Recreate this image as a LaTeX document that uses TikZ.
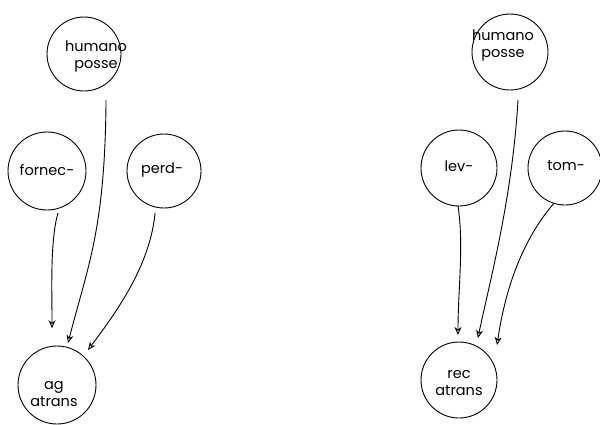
\documentclass[tikz,border=0pt]{standalone}
\usepackage{fontspec}
\setmainfont{Poppins}
\usetikzlibrary{arrows.meta,calc}
\begin{document}
\begin{tikzpicture}[x=1pt,y=-1pt,
  circ/.style={draw,circle,line width=0.9pt,inner sep=0pt,outer sep=0pt},
  lbl/.style={font=\fontsize{14.5}{17}\selectfont,align=center,inner sep=0pt},
  arr/.style={line width=0.9pt,-{Stealth[open,length=8pt,width=7pt,inset=2.5pt]}}]
\useasboundingbox (0,0) rectangle (600,424);
% left diagram
\node[circ,minimum size=74pt] (hp1) at (84,54) {};
\node[lbl] (hp1t) at (96,57) {humano\\posse};
\node[circ,minimum size=78pt] (fornec) at (47,171) {};
\node[lbl] (fornect) at (47,170) {fornec-};
\node[circ,minimum size=74pt] (perd) at (164,171) {};
\node[lbl] (perdt) at (162,170) {perd-};
\node[circ,minimum size=78pt] (ag) at (57,385) {};
\node[lbl] (agt) at (54,394) {ag\\atrans};
% right diagram
\node[circ,minimum size=76pt] (hp2) at (510,52) {};
\node[lbl] (hp2t) at (503,46) {humano\\posse};
\node[circ,minimum size=76pt] (lev) at (459,168) {};
\node[lbl] (levt) at (459,166) {lev-};
\node[circ,minimum size=74pt] (tom) at (565,168) {};
\node[lbl] (tomt) at (566,166) {tom-};
\node[circ,minimum size=76pt] (rec) at (459,380) {};
\node[lbl] (rect) at (459,383) {rec\\atrans};
% connectors left
\draw[arr] ($(hp1)+(-64.4:51pt)$) .. controls (105,230) and (88,265) .. ($(ag)+(75.3:43.4pt)$);
\draw[arr] ($(fornec)+(-75.3:43.4pt)$) .. controls (50,240) and (52,290) .. ($(ag)+(95:57pt)$);
\draw[arr] ($(perd)+(-102:43pt)$) .. controls (150,265) and (118,310) .. ($(ag)+(48.5:46.8pt)$);
% connectors right
\draw[arr] ($(lev)+(-91.5:38pt)$) .. controls (464,245) and (458,290) .. ($(rec)+(91.3:45pt)$);
\draw[arr] ($(hp2)+(-80.5:48.7pt)$) .. controls (512,200) and (490,280) .. ($(rec)+(65.7:46pt)$);
\draw[arr] ($(tom)+(-107.4:37pt)$) .. controls (522,240) and (505,290) .. ($(rec)+(42.6:51.7pt)$);
\end{tikzpicture}
\end{document}
